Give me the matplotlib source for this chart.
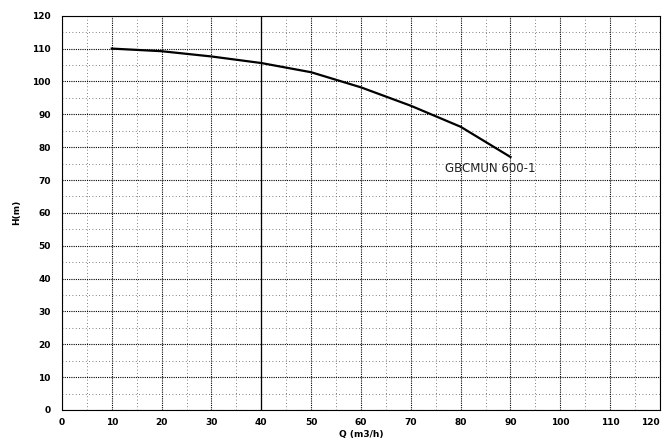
import matplotlib.pyplot as plt
import numpy as np

# pump curve
flow = [10, 20, 30, 40, 50, 60, 70, 80, 90]
head = [110, 109.2, 107.6, 105.6, 102.8, 98.2, 92.6, 86.2, 77]
x_ticks = list(range(0, 121, 10))
y_ticks = list(range(0, 121, 10))
curve_name = "GBCMUN 600-1"

fig = plt.figure(figsize=(6.66, 4.43), dpi=100)
ax = fig.add_axes([0.093, 0.0745, 0.898, 0.89])

ax.plot(flow, head, color='black', linewidth=1.6, zorder=3)
ax.text(86, 73.5, curve_name, fontsize=8.5, ha='center', va='center', color='#222222', zorder=4)

ax.set_xlim(0, 120)
ax.set_ylim(0, 120)
ax.set_xticks(x_ticks)
ax.set_yticks(y_ticks)
ax.set_xticks(np.arange(5, 120, 10), minor=True)
ax.set_yticks(np.arange(5, 120, 10), minor=True)
ax.grid(which='major', color='black', linestyle=(0, (1, 1)), linewidth=0.8)
ax.grid(which='minor', color='#555555', linestyle=(0, (1, 3)), linewidth=0.6)
ax.axvline(40, color='black', linewidth=0.9, zorder=2)

for s in ax.spines.values():
    s.set_linestyle((0, (1, 1)))
    s.set_linewidth(0.8)

ax.tick_params(which='both', length=0, labelsize=6.5)
ax.tick_params(axis='x', pad=6)
ax.tick_params(axis='y', pad=8)
for lbl in ax.get_xticklabels() + ax.get_yticklabels():
    lbl.set_fontweight('bold')
# keep the last x label inside the canvas
ax.get_xticklabels()[-1].set_horizontalalignment('right')

ax.set_xlabel("Q (m3/h)", fontsize=6.5, fontweight='bold', labelpad=2)
ax.set_ylabel("H(m)", fontsize=6.5, fontweight='bold', labelpad=8)

fig.savefig("out.png", dpi=100)
